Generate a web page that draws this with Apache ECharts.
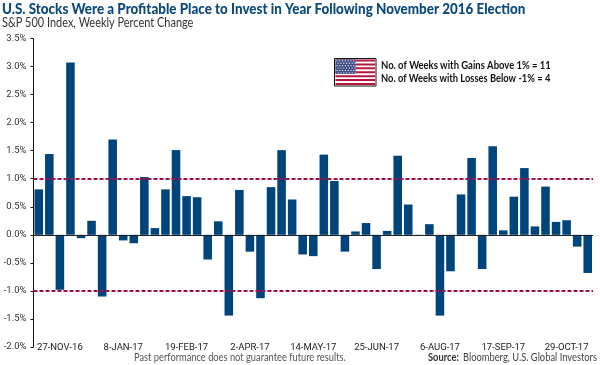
<!DOCTYPE html>
<html><head><meta charset="utf-8">
<style>html,body{margin:0;padding:0;background:#fff}#c{width:600px;height:365px}</style>
<script src="https://cdn.jsdelivr.net/npm/echarts@6/dist/echarts.min.js"></script>
</head><body><div id="c"></div>
<script>
const weeks = ['13-NOV-16','20-NOV-16','27-NOV-16','4-DEC-16','11-DEC-16','18-DEC-16','25-DEC-16','1-JAN-17','8-JAN-17','15-JAN-17','22-JAN-17','29-JAN-17','5-FEB-17','12-FEB-17','19-FEB-17','26-FEB-17','5-MAR-17','12-MAR-17','19-MAR-17','26-MAR-17','2-APR-17','9-APR-17','16-APR-17','23-APR-17','30-APR-17','7-MAY-17','14-MAY-17','21-MAY-17','28-MAY-17','4-JUN-17','11-JUN-17','18-JUN-17','25-JUN-17','2-JUL-17','9-JUL-17','16-JUL-17','23-JUL-17','30-JUL-17','6-AUG-17','13-AUG-17','20-AUG-17','27-AUG-17','3-SEP-17','10-SEP-17','17-SEP-17','24-SEP-17','1-OCT-17','8-OCT-17','15-OCT-17','22-OCT-17','29-OCT-17','5-NOV-17','12-NOV-17'];
const weeklyChange = [0.81,1.44,-0.98,3.07,-0.06,0.25,-1.10,1.70,-0.10,-0.15,1.03,0.12,0.81,1.51,0.69,0.67,-0.44,0.24,-1.44,0.80,-0.30,-1.13,0.85,1.51,0.63,-0.35,-0.38,1.43,0.96,-0.30,0.06,0.21,-0.61,0.07,1.41,0.54,-0.02,0.19,-1.44,-0.65,0.72,1.37,-0.61,1.58,0.08,0.68,1.19,0.15,0.86,0.23,0.26,-0.21,-0.68];
const thresholds = [1, -1];
const titleText = 'U.S. Stocks Were a Profitable Place to Invest in Year Following November 2016 Election';
const subtitleText = 'S&P 500 Index, Weekly Percent Change';
const legendLines = ['No. of Weeks with Gains Above 1% = 11','No. of Weeks with Losses Below -1% = 4'];
const noteText = 'Past performance does not guarantee future results.';
const sourceBold = 'Source:';
const sourceText = 'Bloomberg, U.S. Global Investors';

const fx=334.5, fy=58.5, fw=41.5, fh=27.5;
const flag=[{type:'rect',shape:{x:fx,y:fy,width:fw,height:fh},style:{fill:'#fff',stroke:'#111',lineWidth:1}}];
for(let i=0;i<13;i+=2){flag.push({type:'rect',shape:{x:fx+1,y:fy+1+i*(fh-2)/13,width:fw-2,height:(fh-2)/13},style:{fill:'#b5173c'}});}
flag.push({type:'rect',shape:{x:fx+1,y:fy+1,width:20,height:14.5},style:{fill:'#3a4a84'}});
for(let r=0;r<6;r++)for(let c=0;c<7;c++){flag.push({type:'circle',shape:{cx:fx+2.5+c*2.8+(r%2?1.2:0),cy:fy+2.4+r*2.4,r:0.7},style:{fill:'#e8e8f2'}});}

const chart=echarts.init(document.getElementById('c'),null,{renderer:'canvas'});
const F='Lato, sans-serif';
const A='Roboto, sans-serif';
const txt=(x,y,text,size,color,weight,sx)=>({type:'text',x,y,scaleX:sx||1,style:{text,font:(weight||'normal')+' '+size+'px '+F,fill:color,textAlign:'left',textVerticalAlign:'middle'}});
chart.setOption({
  animation:false,
  backgroundColor:'#fff',
  grid:{left:33.5,right:7,top:38.5,bottom:18,containLabel:false,outerBoundsMode:'none'},
  xAxis:{type:'category',data:weeks,
    axisLine:{show:false},axisTick:{show:false},
    axisLabel:{inside:true,margin:-6,interval:(i)=>(i-2)%6===0&&i>=2,hideOverlap:false,fontFamily:A,fontSize:9.5,color:'#222'}},
  yAxis:{type:'value',min:-2,max:3.5,interval:0.5,
    axisLine:{show:true,lineStyle:{color:'#111',width:1}},
    axisTick:{show:true,length:3,lineStyle:{color:'#111'}},
    splitLine:{show:false},
    axisLabel:{margin:7,fontFamily:A,fontSize:9.5,color:'#333',formatter:v=>v.toFixed(1)+'%'}},
  series:[{type:'bar',data:weeklyChange,barWidth:'81%',
    itemStyle:{color:'#00447c'},
    markLine:{silent:true,symbol:'none',label:{show:false},animation:false,
      data:[{yAxis:0,lineStyle:{color:'#222',type:'solid',width:1}}].concat(thresholds.map(v=>({yAxis:v,lineStyle:{color:'#a50f45',type:[4,2],width:2}})))}}],
  graphic:{elements:[
    txt(2,9.5,titleText,15,'#0c4a7c','900',0.894),
    txt(2,22.5,subtitleText,12.5,'#333','normal',0.876),
    ...flag,
    txt(381,65.5,legendLines[0],11,'#111','bold',0.86),
    txt(381,78.5,legendLines[1],11,'#111','bold',0.85),
    txt(134,357.5,noteText,11,'#555','normal',0.845),
    txt(428,357.5,sourceBold,11,'#333','bold',0.85),
    txt(463,357.5,sourceText,11,'#444','normal',0.85)
  ]}
});
</script></body></html>
